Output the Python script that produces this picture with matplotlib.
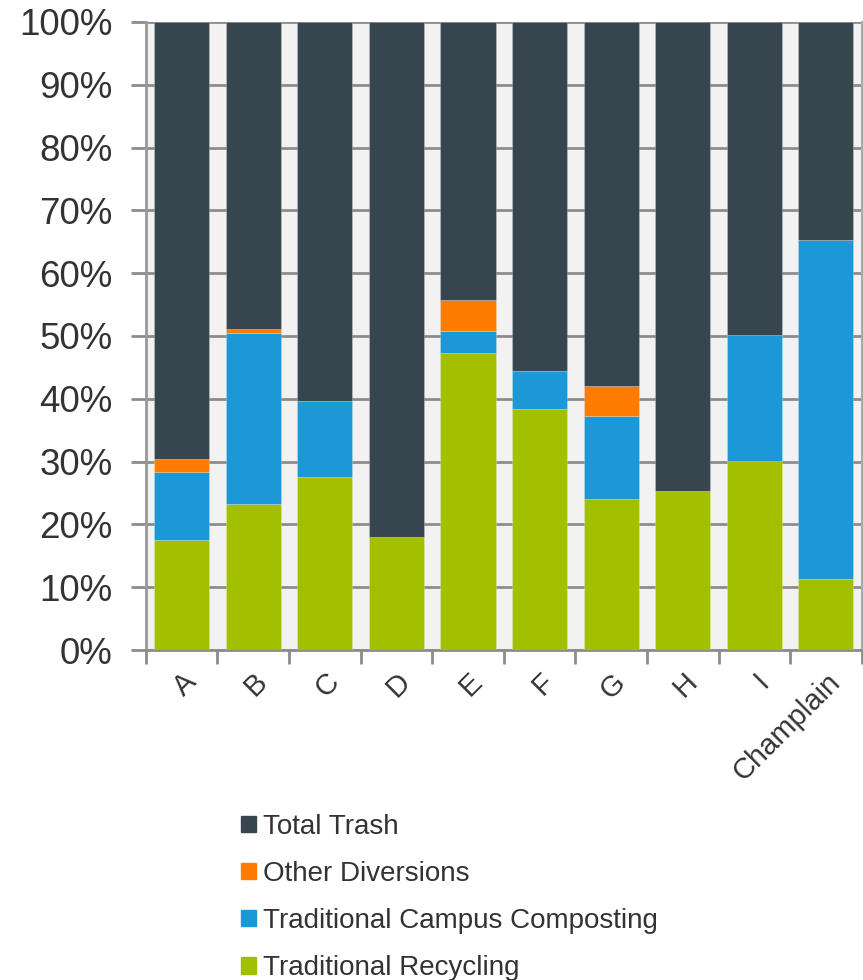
import matplotlib.pyplot as plt
from matplotlib.patches import Patch
from matplotlib.ticker import PercentFormatter

plt.rcParams['font.family'] = ['Liberation Sans', 'DejaVu Sans']

cats = ['A', 'B', 'C', 'D', 'E', 'F', 'G', 'H', 'I', 'Champlain']
recycling = [17.5, 23.3, 27.5, 18.0, 47.3, 38.4, 24.0, 25.3, 30.1, 11.3]
composting = [10.9, 27.2, 12.1, 0.0, 3.5, 6.1, 13.2, 0.0, 20.0, 54.0]
other = [2.0, 0.6, 0.0, 0.0, 5.0, 0.0, 4.8, 0.0, 0.0, 0.0]
trash = [100 - r - c - o for r, c, o in zip(recycling, composting, other)]

c_trash = '#37454f'
c_other = '#ff7c00'
c_comp = '#1b98d5'
c_rec = '#a2c000'
txt = '#333333'

fig = plt.figure(figsize=(8.63, 9.8), dpi=100)
ax = fig.add_axes([0.169, 0.3367, 0.8295, 0.6409])
ax.set_facecolor('#f2f2f2')

x = range(len(cats))
w = 0.77
ec = (1, 1, 1, 0.25)
ax.bar(x, recycling, w, color=c_rec, edgecolor=ec, linewidth=0.6, zorder=3)
b1 = recycling
ax.bar(x, composting, w, bottom=b1, color=c_comp, edgecolor=ec, linewidth=0.6, zorder=3)
b2 = [a + b for a, b in zip(b1, composting)]
ax.bar(x, other, w, bottom=b2, color=c_other, edgecolor=ec, linewidth=0.6, zorder=3)
b3 = [a + b for a, b in zip(b2, other)]
ax.bar(x, trash, w, bottom=b3, color=c_trash, edgecolor=ec, linewidth=0.6, zorder=3)

ax.set_xlim(-0.5, len(cats) - 0.5)
ax.set_ylim(0, 100)
ax.set_yticks(range(0, 101, 10))
ax.yaxis.set_major_formatter(PercentFormatter(decimals=0))
ax.grid(axis='y', color='#8c8c8c', linewidth=2, zorder=1)
ax.set_axisbelow(True)

# category boundaries get the tick marks, labels sit at the centres
ax.set_xticks([i - 0.5 for i in range(len(cats) + 1)], minor=False)
ax.set_xticklabels([])
ax.set_xticks(list(x), minor=True)
ax.set_xticklabels(cats, minor=True, rotation=45, ha='right', va='top',
                   rotation_mode='anchor', fontsize=21, color=txt)
ax.tick_params(axis='x', which='minor', length=0, pad=13)
ax.tick_params(axis='x', which='major', length=10, width=2, color='#8c8c8c')
ax.tick_params(axis='y', length=11, width=2, color='#8c8c8c', labelsize=26.5,
               labelcolor=txt, pad=13)

ax.spines['top'].set_visible(False)
ax.spines['left'].set_color('#999999')
ax.spines['left'].set_linewidth(2)
ax.spines['bottom'].set_color('#8c8c8c')
ax.spines['bottom'].set_linewidth(2)
ax.spines['right'].set_color('#aaaaaa')
ax.spines['right'].set_linewidth(1.5)

handles = [Patch(color=c_trash, label='Total Trash'),
           Patch(color=c_other, label='Other Diversions'),
           Patch(color=c_comp, label='Traditional Campus Composting'),
           Patch(color=c_rec, label='Traditional Recycling')]
leg = fig.legend(handles=handles, loc='upper left', bbox_to_anchor=(0.266, 0.181),
                 frameon=False, fontsize=20, handlelength=0.55, handleheight=0.55,
                 handletextpad=0.25, labelspacing=0.76, borderaxespad=0)
for t in leg.get_texts():
    t.set_color(txt)

fig.savefig('out.png', dpi=100)
